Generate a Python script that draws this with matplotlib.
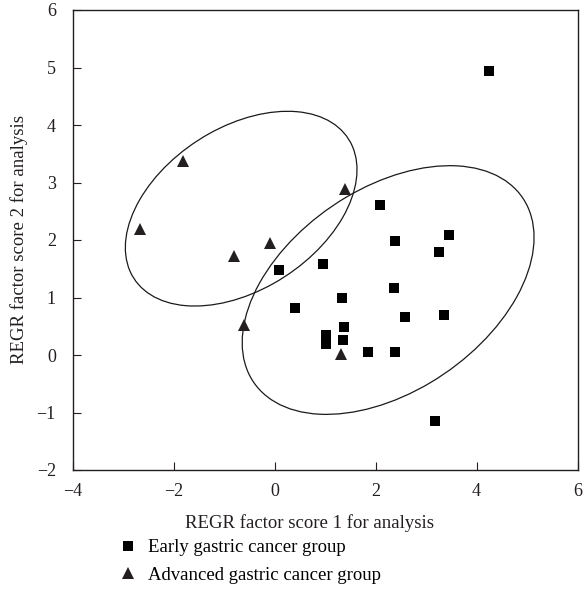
import matplotlib
matplotlib.use("Agg")
import matplotlib.pyplot as plt
from matplotlib.patches import Ellipse
from matplotlib.lines import Line2D

# Early gastric cancer group (squares)
early_x = [4.25, 2.09, 2.39, 3.46, 3.25, 0.97, 0.09, 2.37, 1.33, 0.41,
           2.59, 3.36, 1.37, 1.01, 1.01, 1.35, 1.85, 2.38, 3.17]
early_y = [4.94, 2.61, 1.99, 2.09, 1.79, 1.59, 1.47, 1.17, 1.00, 0.81,
           0.66, 0.70, 0.49, 0.35, 0.19, 0.26, 0.06, 0.05, -1.15]

# Advanced gastric cancer group (triangles)
adv_x = [-1.81, -2.67, -0.81, -0.09, 1.39, -0.60, 1.32]
adv_y = [3.37, 2.19, 1.72, 1.94, 2.88, 0.52, 0.02]

# Group ellipses: center x, center y, width, height, angle (deg)
adv_ellipse = (-0.66, 2.545, 4.91, 2.90, 26.2)
early_ellipse = (2.25, 1.13, 6.24, 3.63, 27.6)

x_ticks = [-4, -2, 0, 2, 4, 6]
y_ticks = [-2, -1, 0, 1, 2, 3, 4, 5, 6]

x_label = "REGR factor score 1 for analysis"
y_label = "REGR factor score 2 for analysis"
legend_labels = ["Early gastric cancer group", "Advanced gastric cancer group"]

plt.rcParams['font.family'] = ['Liberation Serif', 'DejaVu Serif']
plt.rcParams['axes.unicode_minus'] = True

fig = plt.figure(figsize=(5.84, 6.02), dpi=100)
ax = fig.add_axes([72.5 / 584, (602 - 470) / 602, 505 / 584, 460 / 602])

for e in (adv_ellipse, early_ellipse):
    ax.add_patch(Ellipse((e[0], e[1]), e[2], e[3], angle=e[4],
                         fill=False, edgecolor='#1a1a1a', linewidth=0.9))

ax.plot(early_x, early_y, linestyle='none', marker='s', markersize=7.2,
        color='black', markeredgewidth=0)
ax.plot(adv_x, adv_y, linestyle='none', marker='^', markersize=8.5,
        color='#231f20', markeredgewidth=0)

ax.set_xlim(-4, 6)
ax.set_ylim(-2, 6)
ax.set_xticks(x_ticks)
ax.set_yticks(y_ticks)
ax.tick_params(direction='in', length=6, width=0.8, labelsize=13,
               colors='#231f20')
ax.tick_params(axis='x', pad=9)
ax.tick_params(axis='y', pad=12)
for s in ax.spines.values():
    s.set_linewidth(1.0)
    s.set_color('#231f20')

ax.set_xlabel(x_label, fontsize=13.5, color='#231f20')
ax.xaxis.set_label_coords(0.47, -0.095)
ax.set_ylabel(y_label, fontsize=13.5, color='#231f20')
ax.yaxis.set_label_coords(-0.088, 0.5)

handles = [Line2D([], [], linestyle='none', marker='s', markersize=6.5,
                  color='black', markeredgewidth=0),
           Line2D([], [], linestyle='none', marker='^', markersize=8,
                  color='#231f20', markeredgewidth=0)]
fig.legend(handles, legend_labels, loc='upper left',
           bbox_to_anchor=(119 / 584, 1 - 539 / 602), frameon=False,
           fontsize=13.5, handlelength=1.0, handletextpad=0.55,
           labelspacing=0.55, borderaxespad=0, borderpad=0)

fig.savefig("out.png", dpi=100)
